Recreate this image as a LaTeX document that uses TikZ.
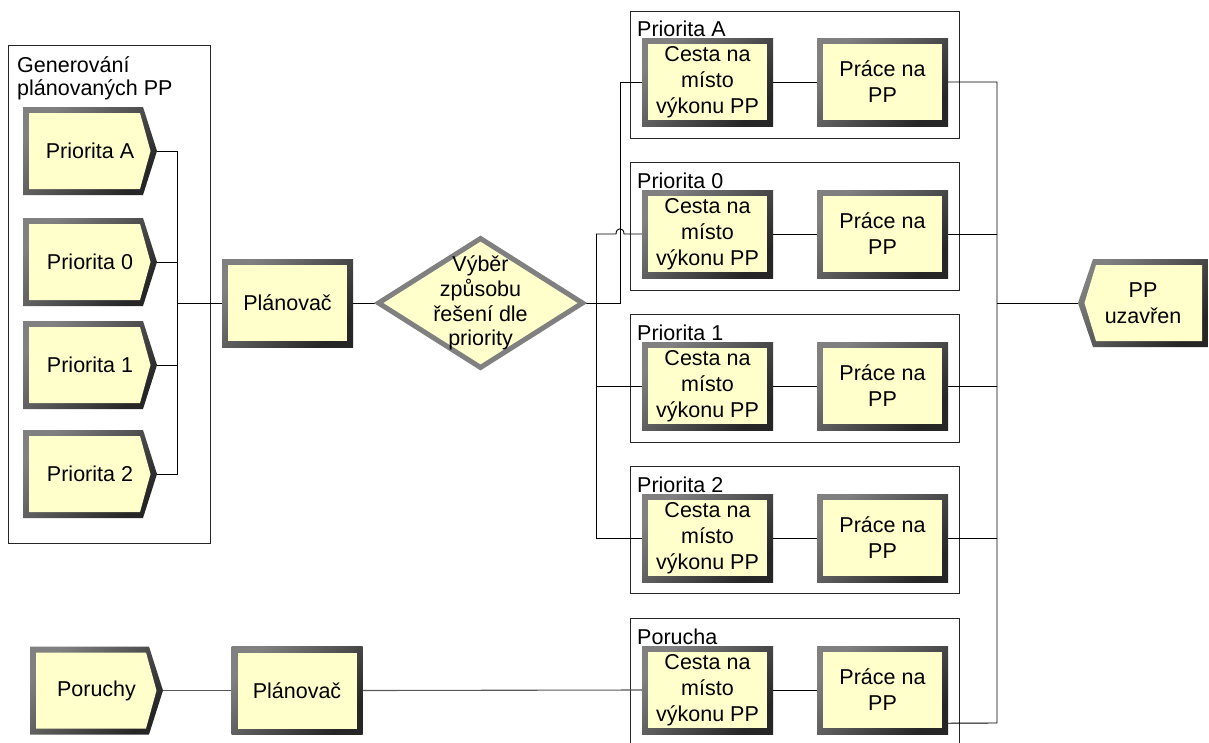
\documentclass[tikz,border=0pt]{standalone}
\usepackage{fontspec}
\setmainfont{Liberation Sans}
\usetikzlibrary{shapes.geometric,backgrounds,calc}
\definecolor{boxfill}{HTML}{FFFFCC}
\definecolor{rimA}{HTML}{808080}
\definecolor{rimB}{HTML}{262626}
\newcommand\bxfont{\fontsize{21.5}{26}\selectfont}
\newcommand\dfont{\fontsize{21.5}{24.7}\selectfont}
\newcommand\tfont{\fontsize{21.5}{23}\selectfont}
\tikzset{
  rim/.style={top color=rimA, middle color=rimA, bottom color=rimB, shading angle=45},
  stdbox/.style={rectangle, minimum width=131pt, minimum height=88pt, inner sep=0pt,
    align=center, font=\bxfont,
    path picture={
      \shade[rim] (path picture bounding box.south west) rectangle (path picture bounding box.north east);
      \fill[boxfill] ([xshift=6pt,yshift=6pt]path picture bounding box.south west)
        rectangle ([xshift=-6pt,yshift=-6pt]path picture bounding box.north east);
    }},
  genbox/.style={rectangle, minimum width=134pt, minimum height=88pt, inner sep=0pt,
    align=center, font=\bxfont,
    path picture={
      \shade[rim] let \p1=(path picture bounding box.south west),
        \p2=(path picture bounding box.north east), \p3=($(\p1)!0.5!(\p2)$) in
        (\x1,\y1) -- (\x2-14pt,\y1) -- (\x2,\y3) -- (\x2-14pt,\y2) -- (\x1,\y2) -- cycle;
      \fill[boxfill] let \p1=(path picture bounding box.south west),
        \p2=(path picture bounding box.north east), \p3=($(\p1)!0.5!(\p2)$) in
        (\x1+6pt,\y1+6pt) -- (\x2-17pt,\y1+6pt) -- (\x2-6.5pt,\y3) -- (\x2-17pt,\y2-6pt) -- (\x1+6pt,\y2-6pt) -- cycle;
    }},
  sinkbox/.style={rectangle, minimum width=130pt, minimum height=88pt, inner sep=0pt,
    align=center, font=\bxfont,
    path picture={
      \shade[rim] let \p1=(path picture bounding box.south west),
        \p2=(path picture bounding box.north east), \p3=($(\p1)!0.5!(\p2)$) in
        (\x1+15pt,\y1) -- (\x2,\y1) -- (\x2,\y2) -- (\x1+15pt,\y2) -- (\x1,\y3) -- cycle;
      \fill[boxfill] let \p1=(path picture bounding box.south west),
        \p2=(path picture bounding box.north east), \p3=($(\p1)!0.5!(\p2)$) in
        (\x1+18pt,\y1+6pt) -- (\x2-6pt,\y1+6pt) -- (\x2-6pt,\y2-6pt) -- (\x1+18pt,\y2-6pt) -- (\x1+6.5pt,\y3) -- cycle;
    }},
  dia/.style={diamond, draw=rimA, line width=5pt, fill=boxfill, minimum width=206pt,
    minimum height=131pt, inner sep=0pt},
  conn/.style={draw=black, line width=0.9pt},
  conng/.style={draw=black!65, line width=1.1pt},
  frame/.style={draw=black!85, line width=0.9pt},
  ttl/.style={anchor=base west, font=\tfont, inner sep=0pt},
}
\begin{document}
\begin{tikzpicture}[x=1pt,y=-1pt]
\useasboundingbox (0,0) rectangle (1209,742);

% generators
\node[genbox] (gA) at (90,151) {Priorita A};
\node[genbox] (g0) at (90,262) {Priorita 0};
\node[genbox] (g1) at (90,365) {Priorita 1};
\node[genbox] (g2) at (90,474) {Priorita 2};
\node[ttl] (tG1) at (17,72) {Generování};
\node[ttl] (tG2) at (17,95) {plánovaných PP};

\node[stdbox] (pl1) at (287.5,303) {Plánovač};
\node[dia, label={[font=\dfont, align=center, inner sep=0pt]center:Výběr\\způsobu\\řešení dle\\priority}] (dia) at (480.5,303) {};

% right rows
\node[stdbox] (cA) at (707.5,82) {Cesta na\\místo\\výkonu PP};
\node[stdbox] (pA) at (882.5,82) {Práce na\\PP};
\node[stdbox] (c0) at (707.5,234) {Cesta na\\místo\\výkonu PP};
\node[stdbox] (p0) at (882.5,234) {Práce na\\PP};
\node[stdbox] (c1) at (707.5,386) {Cesta na\\místo\\výkonu PP};
\node[stdbox] (p1) at (882.5,386) {Práce na\\PP};
\node[stdbox] (c2) at (707.5,538) {Cesta na\\místo\\výkonu PP};
\node[stdbox] (p2) at (882.5,538) {Práce na\\PP};
\node[stdbox] (cP) at (707.5,690) {Cesta na\\místo\\výkonu PP};
\node[stdbox] (pP) at (882.5,690) {Práce na\\PP};

\node[ttl] (tA) at (637,36) {Priorita A};
\node[ttl] (t0) at (637,188) {Priorita 0};
\node[ttl] (t1) at (637,340) {Priorita 1};
\node[ttl] (t2) at (637,492) {Priorita 2};
\node[ttl] (tP) at (637,644) {Porucha};

\node[sinkbox] (out) at (1143,303) {PP\\uzavřen};

\node[genbox, minimum width=133pt] (por) at (96.5,690.5) {Poruchy};
\node[stdbox] (pl2) at (297,690.5) {Plánovač};

\coordinate (lbT) at (177,151);
\coordinate (lbB) at (177,474);
\coordinate (rbA) at (620,303);
\coordinate (rbT) at (596,234);
\coordinate (rbB) at (596,538);
\coordinate (rrT) at (997,82);
\coordinate (rrB) at (997,723);
\coordinate (h1) at (616,234);
\coordinate (h2) at (624,234);

\begin{scope}[on background layer]
  \fill[white] (0,0) rectangle (1209,742);
  % containers
  \draw[frame] (8,45) rectangle (210,543);
  \draw[frame] (630,11) rectangle (959,138);
  \draw[frame] (630,162) rectangle (959,290);
  \draw[frame] (630,314) rectangle (959,442);
  \draw[frame] (630,466) rectangle (959,593);
  \draw[frame] (630,745) -- (630,618) -- (959,618) -- (959,745);
  % left bus
  \draw[conn] (gA.east) -- (lbT) -- (lbB) -- (g2.east);
  \draw[conn] (g0.east) -- (g0.east -| lbT);
  \draw[conn] (g1.east) -- (g1.east -| lbT);
  \draw[conn] (lbT |- pl1.west) -- (pl1.west);
  \draw[conn] (pl1.east) -- (dia.west);
  % distribution
  \draw[conn] (dia.east) -- (rbA) |- (cA.west);
  \draw[conn] (rbT) -- (rbB);
  \draw[conn] (rbT) -- (h1) .. controls (616,227) and (624,227) .. (h2) -- (c0.west);
  \draw[conn] (rbB |- c1.west) -- (c1.west);
  \draw[conn] (rbB) -- (c2.west);
  % rows
  \draw[conn] (cA.east) -- (pA.west);
  \draw[conn] (c0.east) -- (p0.west);
  \draw[conn] (c1.east) -- (p1.west);
  \draw[conn] (c2.east) -- (p2.west);
  \draw[conn] (cP.east) -- (pP.west);
  % right bus
  \draw[conn] (pA.east) -- (rrT) -- (rrB) -- ([yshift=11pt]pP.south east);
  \draw[conn] (p0.east) -- (p0.east -| rrT);
  \draw[conn] (p1.east) -- (p1.east -| rrT);
  \draw[conn] (p2.east) -- (p2.east -| rrT);
  \draw[conn] (rrT |- out.west) -- (out.west);
  % faults
  \draw[conng] (por.east) -- (pl2.west);
  \draw[conng] (pl2.east) -- (cP.west);
\end{scope}
\end{tikzpicture}
\end{document}
